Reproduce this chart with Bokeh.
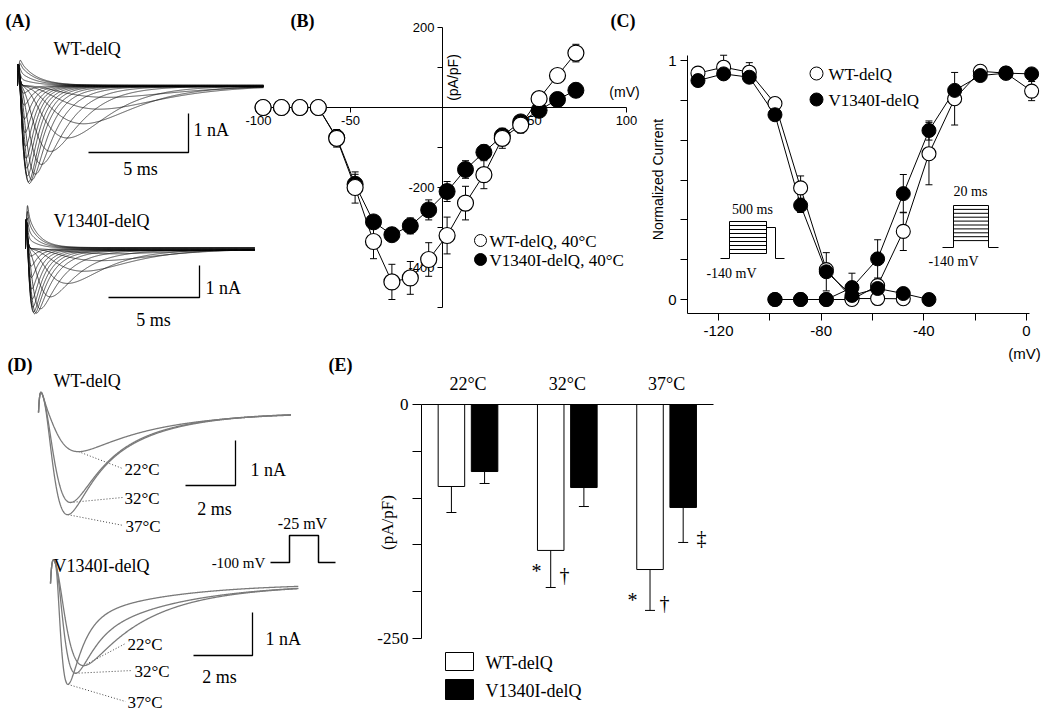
import numpy as np
from bokeh.plotting import figure
from bokeh.models import Range1d, LinearAxis, FixedTicker
from bokeh.embed import file_html
from bokeh.resources import INLINE
from bokeh.core.properties import value

# ---------------------------------------------------------------- data
# (B) current density vs voltage, 40 degC
iv_mv = [-97.5, -87.5, -77.5, -67.5, -57.5, -47.5, -37.5, -27.5, -17.5, -7.5,
         2.5, 12.5, 22.5, 32.5, 42.5, 52.5, 62.5, 72.5]
iv_wt = [0, 0, 0, 0, -77, -200, -335, -436, -426, -380, -320, -239, -168, -77, -44, 22, 80, 136]
iv_wt_err = [0, 0, 0, 0, 22, 39, 43, 44, 41, 42, 46, 42, 35, 25, 20, 12, 8, 22]
iv_v = [0, 0, 0, 0, -75, -192, -286, -318, -296, -256, -210, -155, -112, -71, -36, -7, 20, 43]
iv_v_err = [0, 0, 0, 0, 10, 25, 12, 8, 20, 25, 25, 22, 18, 12, 8, 6, 5, 5]
iv_xticks = [-100, -50, 50, 100]
iv_yticks = [200, -200, -400]
iv_yminor = [100, -100, -300, -500]

# (C) steady-state inactivation / activation
inact_mv = [-128, -118, -108, -98, -88, -78, -68, -58, -48, -38]
inact_wt = [0.947, 0.972, 0.951, 0.82, 0.467, 0.125, 0.004, 0.004, 0.003]
inact_wt_err = [0.01, 0.05, 0.04, 0.01, 0.05, 0.02, 0.01, 0.0, 0.0]
inact_v = [0.916, 0.944, 0.93, 0.773, 0.394, 0.116, 0.017, 0.046, 0.025, 0.0]
inact_v_err = [0.01, 0.01, 0.01, 0.01, 0.03, 0.08, 0.01, 0.01, 0.01, 0.0]
act_mv = [-98, -88, -78, -68, -58, -48, -38, -28, -18, -8, 2]
act_wt = [0, 0, 0, 0.0, 0.058, 0.285, 0.61, 0.84, 0.955, 0.947, 0.872]
act_wt_err = [0, 0, 0, 0, 0.02, 0.08, 0.13, 0.11, 0.02, 0.01, 0.04]
act_v = [0, 0, 0, 0.05, 0.17, 0.443, 0.707, 0.875, 0.937, 0.947, 0.944]
act_v_err = [0, 0, 0, 0.06, 0.08, 0.08, 0.04, 0.02, 0.01, 0.01, 0.01]
c_xticks = [-120, -80, -40, 0]
c_xminor = [-100, -60, -20]
c_yticks = [0, 1]
c_yminor = [1 / 6, 2 / 6, 3 / 6, 4 / 6, 5 / 6]

# (E) peak current density at three temperatures
temps = ["22°C", "32°C", "37°C"]
e_wt = [-87.6, -155.9, -176.3]
e_wt_err = [27.8, 39.6, 43.7]
e_v = [-71.6, -88.7, -110.0]
e_v_err = [12.8, 20.3, 37.4]
e_yticks = [0, -250]
e_yminor = [-50, -100, -150, -200]

# (A) current families: peak amplitude (nA), time to peak (ms), decay tau (ms)
a_wt_amp = [-0.30, -0.60, -0.97, -1.33, -1.67, -2.0, -2.25, -2.4, -2.49, -2.45, -2.3,
            -2.1, -1.85, -1.55, -1.2, -0.85, -0.5, -0.2, 0.15, 0.3, 0.45, 0.55]
a_wt_tpk = [4.8, 4.1, 3.3, 2.5, 1.65, 1.2, 0.9, 0.72, 0.6, 0.55, 0.5, 0.46, 0.43, 0.4,
            0.37, 0.35, 0.33, 0.3, 0.2, 0.2, 0.2, 0.2]
a_wt_tau = [2.2, 2.0, 1.8, 1.6, 1.4, 1.2, 1.0, 0.85, 0.75, 0.65, 0.6, 0.55, 0.5, 0.47,
            0.45, 0.42, 0.4, 0.38, 0.8, 0.8, 0.8, 0.8]
a_v_amp = [-0.16, -0.37, -0.69, -1.06, -1.47, -1.84, -1.98, -2.0, -1.95, -1.8, -1.55,
           -1.25, -0.9, -0.55, -0.25, 0.3, 0.55, 0.8, 1.0]
a_v_tpk = [4.8, 4.1, 3.2, 2.3, 1.37, 0.82, 0.6, 0.5, 0.44, 0.4, 0.37, 0.35, 0.32, 0.3,
           0.28, 0.15, 0.15, 0.15, 0.15]
a_v_tau = [2.4, 2.2, 2.0, 1.8, 1.5, 1.2, 0.95, 0.8, 0.7, 0.62, 0.56, 0.5, 0.46, 0.42,
           0.4, 0.6, 0.6, 0.6, 0.6]

# (D) traces at 22, 32, 37 degC: amplitude, time to peak, fast/slow tau, slow fraction
d_labels = ["22°C", "32°C", "37°C"]
d_wt_amp = [-0.87, -2.0, -2.27]
d_wt_tpk = [1.6, 1.28, 1.16]
d_wt_tauf = [3.0, 0.8, 0.73]
d_wt_taus = [3.0, 2.5, 2.5]
d_wt_slow = [0.0, 0.35, 0.35]
d_v_amp = [-1.91, -2.09, -2.37]
d_v_tpk = [1.12, 0.85, 0.58]
d_v_tauf = [1.8, 0.49, 0.45]
d_v_taus = [4.0, 3.0, 3.0]
d_v_slow = [0.2, 0.2, 0.15]

# ---------------------------------------------------------------- canvas
W, H = 1046, 716
OX, OY = 0, 0
SERIF = "Liberation Serif"
SANS = "Liberation Sans"


def xr(v1, p1, v2, p2):
    s = (p2 - p1) / (v2 - v1)
    start = v1 - (p1 - OX) / s
    return Range1d(start=start, end=start + W / s)


def yr(v1, p1, v2, p2):
    s = (p1 - p2) / (v2 - v1)
    start = v1 - (OY + H - p1) / s
    return Range1d(start=start, end=start + H / s)


def to_px(r, v):
    return OX + (v - r.start) / (r.end - r.start) * W


def to_py(r, v):
    return OY + (r.end - v) / (r.end - r.start) * H


def from_px(r, px):
    return r.start + (px - OX) / W * (r.end - r.start)


def from_py(r, py):
    return r.end - (py - OY) / H * (r.end - r.start)


XR = {
    "ax1": xr(0, 17, 5, 117), "ax2": xr(0, 25, 5, 116),
    "bx": xr(0, 442, 100, 626), "cx": xr(-120, 718, 0, 1026),
    "dx1": xr(0, 38, 2, 88), "dx2": xr(0, 50, 2, 109),
    "ex": xr(0, 467.5, 1, 566.8),
}
YR = {
    "ay1": yr(0, 85, -1, 124), "ay2": yr(0, 248, -1, 280),
    "by": yr(0, 107, -500, 307), "cy": yr(0, 299, 1, 60),
    "dy1": yr(0, 412, -1, 457), "dy2": yr(0, 583, -1, 626),
    "ey": yr(0, 404, -250, 638),
}

p = figure(width=W, height=H, output_backend="svg", toolbar_location=None, tools="",
           x_range=Range1d(OX, OX + W), y_range=Range1d(OY + H, OY),
           x_axis_location=None, y_axis_location=None, min_border=0)
p.grid.visible = False
p.outline_line_color = None
p.background_fill_color = "white"
p.border_fill_color = "white"
p.extra_x_ranges = XR
p.extra_y_ranges = YR


def txt(x, y, s, size=17, font=SERIF, align="left", baseline="middle", angle=0.0,
        style="normal", xn="default", yn="default"):
    p.text(x=[x], y=[y], text=[s], text_font=value(font), text_font_size=f"{size}px",
           text_align=align, text_baseline=baseline, angle=angle, text_font_style=style,
           text_color="black", x_range_name=xn, y_range_name=yn)


def style_axis(ax, font, size, tick_out, standoff, ticks=()):
    ax.axis_line_color = "black"
    ax.axis_line_width = 1
    ax.major_tick_line_color = "black"
    ax.major_tick_out = tick_out
    ax.major_tick_in = 0
    ax.minor_tick_line_color = "black"
    ax.minor_tick_out = tick_out
    ax.minor_tick_in = 0
    ax.major_label_text_font = font
    ax.major_label_text_font_size = f"{size}px"
    ax.major_label_text_color = "black"
    ax.major_label_standoff = standoff
    ax.major_label_overrides = {t: str(t) for t in ticks}


def errbars(x, y, e, xn, yn, cap=8, down_only=False):
    x = list(x)
    lo = [yy - ee for yy, ee in zip(y, e)]
    hi = [yy if down_only else yy + ee for yy, ee in zip(y, e)]
    keep = [i for i, ee in enumerate(e) if ee > 0]
    xs = [x[i] for i in keep]
    p.segment(x0=xs, x1=xs, y0=[lo[i] for i in keep], y1=[hi[i] for i in keep],
              line_color="black", line_width=1, x_range_name=xn, y_range_name=yn)
    caps_y = [lo[i] for i in keep] + ([] if down_only else [hi[i] for i in keep])
    caps_x = xs + ([] if down_only else xs)
    p.scatter(x=caps_x, y=caps_y, marker="dash", size=cap, line_color="black",
              line_width=1, x_range_name=xn, y_range_name=yn)


# ---------------------------------------------------------------- trace model
def na_trace(t, amp, tpk, tau_f, tau_s, slow, delay):
    tt = np.clip(t - delay, 0.0, None)
    dec = (1 - slow) * np.exp(-tt / tau_f) + slow * np.exp(-tt / tau_s)
    lo, hi = 0.003, 6.0
    for _ in range(50):
        tm = 0.5 * (lo + hi)
        g = (1 - np.exp(-tt / tm)) ** 3 * dec
        if t[np.argmax(g)] < tpk:
            lo = tm
        else:
            hi = tm
    g = (1 - np.exp(-tt / tm)) ** 3 * dec
    return amp * g / g.max()


def spike(t, c, ts):
    tt = np.clip(t, 0.0, None)
    return c * (tt / ts) * np.exp(1 - tt / ts)


# ---------------------------------------------------------------- (A)
def family(amps, tpks, taus, tend, c_sp, pers, xn, yn):
    t = np.linspace(0, tend, 900)
    xs, ys = [], []
    for a, tp, tau in zip(amps, tpks, taus):
        y = na_trace(t, a, tp, tau, tau, 0.0, 0.05)
        y = y + pers * a * (1 - np.exp(-t / 0.5)) + spike(t, c_sp, 0.04)
        xs.append(t.tolist())
        ys.append(y.tolist())
    p.multi_line(xs=xs, ys=ys, line_color="#111111", line_width=0.8, line_alpha=0.9,
                 x_range_name=xn, y_range_name=yn)


family(a_wt_amp, a_wt_tpk, a_wt_tau, 12.3, 0.55, 0.012, "ax1", "ay1")
family(a_v_amp, a_v_tpk, a_v_tau, 12.6, 0.9, 0.03, "ax2", "ay2")


def scalebar(xn, yn, px, py, dt, di):
    rx, ry = XR[xn], YR[yn]
    t0, i0 = from_px(rx, px), from_py(ry, py)
    p.line(x=[t0, t0, t0 - dt], y=[i0, i0 - di, i0 - di], line_color="black",
           line_width=1.3, x_range_name=xn, y_range_name=yn)


scalebar("ax1", "ay1", 188, 113, 5, 1)
scalebar("ax2", "ay2", 199, 265, 5, 1)
txt(53, 48, "WT-delQ", 18)
txt(193, 129, "1 nA", 18)
txt(140, 168, "5 ms", 18, align="center")
txt(53, 220, "V1340I-delQ", 18)
txt(205, 287, "1 nA", 18)
txt(153, 319, "5 ms", 18, align="center")

# ---------------------------------------------------------------- (B)
bxa = LinearAxis(x_range_name="bx", y_range_name="by", fixed_location=0,
                 bounds=(-100, 100), ticker=FixedTicker(ticks=iv_xticks, minor_ticks=[]))
style_axis(bxa, SANS, 13, 5, 3, iv_xticks)
bxa.level = "underlay"
p.add_layout(bxa, "below")
bya = LinearAxis(x_range_name="bx", y_range_name="by", fixed_location=0,
                 bounds=(-500, 200), ticker=FixedTicker(ticks=iv_yticks, minor_ticks=iv_yminor))
style_axis(bya, SANS, 13, 5, 3, iv_yticks)
bya.level = "underlay"
p.add_layout(bya, "left")

p.line(iv_mv, iv_v, line_color="black", line_width=1, x_range_name="bx", y_range_name="by")
p.line(iv_mv, iv_wt, line_color="black", line_width=1, x_range_name="bx", y_range_name="by")
errbars(iv_mv, iv_v, iv_v_err, "bx", "by", cap=7)
errbars(iv_mv, iv_wt, iv_wt_err, "bx", "by", cap=7)
p.scatter(iv_mv, iv_v, marker="circle", size=16, fill_color="black", line_color="black",
          x_range_name="bx", y_range_name="by")
p.scatter(iv_mv, iv_wt, marker="circle", size=16, fill_color="white", line_color="black",
          line_width=1.2, x_range_name="bx", y_range_name="by")
txt(452, 77, "(pA/pF)", 14, SANS, align="center", angle=np.pi / 2)
txt(624, 91, "(mV)", 14, SANS, align="center")
p.scatter([480], [240], marker="circle", size=12, fill_color="white", line_color="black")
p.scatter([480], [259], marker="circle", size=12, fill_color="black", line_color="black")
txt(489, 241, "WT-delQ, 40°C", 17)
txt(489, 260, "V1340I-delQ, 40°C", 17)

# ---------------------------------------------------------------- (C)
cx_loc = from_py(YR["cy"], 313)
cy_loc = from_px(XR["cx"], 687)
cxa = LinearAxis(x_range_name="cx", y_range_name="cy", fixed_location=cx_loc,
                 bounds=(cy_loc, 1.2), ticker=FixedTicker(ticks=c_xticks, minor_ticks=c_xminor))
style_axis(cxa, SANS, 15, 7, 5, c_xticks)
p.add_layout(cxa, "below")
cya = LinearAxis(x_range_name="cx", y_range_name="cy", fixed_location=cy_loc,
                 bounds=(cx_loc, 1.02), ticker=FixedTicker(ticks=c_yticks, minor_ticks=c_yminor))
style_axis(cya, SANS, 15, 7, 4, c_yticks)
p.add_layout(cya, "left")

for xs_, ys_ in ((inact_mv[:len(inact_wt)], inact_wt), (act_mv, act_wt),
                 (inact_mv, inact_v), (act_mv, act_v)):
    p.line(xs_, ys_, line_color="black", line_width=1, x_range_name="cx", y_range_name="cy")
errbars(inact_mv[:len(inact_wt)], inact_wt, inact_wt_err, "cx", "cy", cap=7)
errbars(act_mv, act_wt, act_wt_err, "cx", "cy", cap=7)
errbars(inact_mv, inact_v, inact_v_err, "cx", "cy", cap=7)
errbars(act_mv, act_v, act_v_err, "cx", "cy", cap=7)
for xs_, ys_ in ((inact_mv[:len(inact_wt)], inact_wt), (act_mv, act_wt)):
    p.scatter(xs_, ys_, marker="circle", size=14, fill_color="white", line_color="black",
              line_width=1.1, x_range_name="cx", y_range_name="cy")
for xs_, ys_ in ((inact_mv, inact_v), (act_mv, act_v)):
    p.scatter(xs_, ys_, marker="circle", size=14, fill_color="black", line_color="black",
              x_range_name="cx", y_range_name="cy")

txt(657, 179, "Normalized Current", 14, SANS, align="center", angle=np.pi / 2)
txt(1024, 353, "(mV)", 15, SANS, align="center")
p.scatter([816], [73], marker="circle", size=13, fill_color="white", line_color="black")
p.scatter([816], [99], marker="circle", size=13, fill_color="black", line_color="black")
txt(828, 74, "WT-delQ", 17)
txt(828, 100, "V1340I-delQ", 17)

# voltage protocols (decoration, screen positions)
pl_xs = [[720, 729, 729, 766, 766, 775, 775, 784], [766, 766]]
pl_ys = [[258, 258, 221, 221, 227, 227, 258, 258], [221, 253]]
for k in range(1, 9):
    yy = 221 + 4 * k
    pl_xs.append([729, 766])
    pl_ys.append([yy, yy])
pr_xs = [[942, 953, 953, 988, 988, 998]]
pr_ys = [[247, 247, 205, 205, 247, 247]]
for k in range(1, 10):
    yy = 205 + 3.9 * k
    pr_xs.append([953, 988])
    pr_ys.append([yy, yy])
p.multi_line(xs=pl_xs + pr_xs, ys=pl_ys + pr_ys, line_color="black", line_width=1)
txt(752, 209, "500 ms", 14, align="center")
txt(731, 273, "-140 mV", 14, align="center")
txt(970, 191, "20 ms", 14, align="center")
txt(953, 261, "-140 mV", 14, align="center")

# ---------------------------------------------------------------- (D)
def dfamily(amps, tpks, tauf, taus, slow, tend, c_sp, xn, yn, lbl_pts, lbls):
    t = np.linspace(0, tend, 700)
    xs, ys = [], []
    rx, ry = XR[xn], YR[yn]
    for k, (a, tp, tf, tsl, sf) in enumerate(zip(amps, tpks, tauf, taus, slow)):
        y = na_trace(t, a, tp, tf, tsl, sf, 0.15) + spike(t, c_sp, 0.1)
        xs.append(t.tolist())
        ys.append(y.tolist())
        j = int(np.argmin(y))
        sx, sy = to_px(rx, t[j]), to_py(ry, y[j])
        ex, ey = lbl_pts[k]
        p.line([sx, ex - 2], [sy, ey], line_color="#444444", line_width=1,
               line_dash="1 2")
        txt(ex, ey + 1, lbls[k], 17)
    p.multi_line(xs=xs, ys=ys, line_color="#7a7a7a", line_width=1.3,
                 x_range_name=xn, y_range_name=yn)


dfamily(d_wt_amp, d_wt_tpk, d_wt_tauf, d_wt_taus, d_wt_slow, 10.1, 0.45, "dx1", "dy1",
        [(124, 468), (124, 497), (125, 525)], d_labels)
dfamily(d_v_amp, d_v_tpk, d_v_tauf, d_v_taus, d_v_slow, 8.4, 0.55, "dx2", "dy2",
        [(127, 643), (134, 670), (127, 701)], d_labels)
scalebar("dx1", "dy1", 235, 440, 2, 1)
scalebar("dx2", "dy2", 252, 612, 2, 1)
txt(53, 380, "WT-delQ", 18)
txt(53, 565, "V1340I-delQ", 18)
txt(250, 469, "1 nA", 18)
txt(214, 508, "2 ms", 18, align="center")
txt(265, 638, "1 nA", 18)
txt(219, 676, "2 ms", 18, align="center")
p.line([270, 289, 289, 318, 318, 335], [562, 562, 535, 535, 562, 562], line_color="black",
       line_width=1.5)
txt(302, 523, "-25 mV", 16, align="center")
txt(238, 562, "-100 mV", 15, align="center")

# ---------------------------------------------------------------- (E)
ex_left = from_px(XR["ex"], 421)
ex_right = from_px(XR["ex"], 713)
eya = LinearAxis(x_range_name="ex", y_range_name="ey", fixed_location=ex_left,
                 bounds=(-250, 0), ticker=FixedTicker(ticks=e_yticks, minor_ticks=e_yminor))
style_axis(eya, SERIF, 17, 9, 4, e_yticks)
p.add_layout(eya, "left")
exa = LinearAxis(x_range_name="ex", y_range_name="ey", fixed_location=0,
                 bounds=(ex_left, ex_right), ticker=FixedTicker(ticks=[], minor_ticks=[]))
style_axis(exa, SERIF, 17, 0, 0)
exa.major_label_text_font_size = "0px"
p.add_layout(exa, "below")

gi = list(range(len(temps)))
off = 0.167
bw = 0.267
wt_x = [g - off for g in gi]
v_x = [g + off for g in gi]
errbars(wt_x, e_wt, e_wt_err, "ex", "ey", cap=10, down_only=True)
errbars(v_x, e_v, e_v_err, "ex", "ey", cap=10, down_only=True)
p.vbar(x=wt_x, width=bw, top=0, bottom=e_wt, fill_color="white", line_color="black",
       line_width=1, x_range_name="ex", y_range_name="ey")
p.vbar(x=v_x, width=bw, top=0, bottom=e_v, fill_color="black", line_color="black",
       line_width=1, x_range_name="ex", y_range_name="ey")
for g, lab in zip(gi, temps):
    txt(g, 383, lab, 18, align="center", xn="ex")
txt(387, 522, "(pA/pF)", 17, align="center", angle=np.pi / 2)
for (sx, sy, s) in [(536, 570, "*"), (564, 574, "†"), (632, 599, "*"), (664, 602, "†"),
                    (701, 537, "‡")]:
    txt(sx, sy, s, 20, align="center")
p.quad(left=[445, 445], right=[473, 473], top=[652, 679], bottom=[670, 699],
       fill_color=["white", "black"], line_color="black", line_width=1)
txt(485, 662, "WT-delQ", 18)
txt(485, 690, "V1340I-delQ", 18)

# ---------------------------------------------------------------- panel letters
for (lx, ly, s) in [(5, 20, "(A)"), (290, 20, "(B)"), (610, 20, "(C)"),
                    (7, 364, "(D)"), (328, 364, "(E)")]:
    txt(lx, ly, s, 18, style="bold")

open("out.html", "w").write(file_html(p, INLINE))
